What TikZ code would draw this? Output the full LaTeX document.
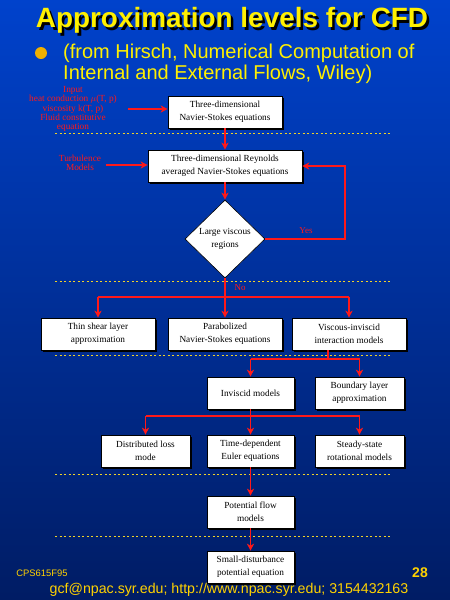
\documentclass[tikz,border=0pt]{standalone}
\usepackage{fontspec}
\setmainfont{Liberation Serif}
\setsansfont{Liberation Sans}
\usetikzlibrary{arrows.meta,shapes.geometric,shadows}
\definecolor{bgtop}{RGB}{0,66,204}
\definecolor{bgbot}{RGB}{0,28,100}
\definecolor{ttl}{RGB}{255,240,0}
\definecolor{bul}{RGB}{240,176,0}
\definecolor{foot}{RGB}{255,210,0}
\definecolor{rd}{RGB}{255,25,25}
\definecolor{sep}{RGB}{240,210,40}
\newcommand{\shadowtext}[1]{\makebox[0pt][l]{\hspace{2.5pt}\raisebox{-2.5pt}{\color{black}#1}}#1}
\begin{document}
\begin{tikzpicture}[x=1pt,y=-1pt,
  box/.style={draw=black, line width=0.6pt, fill=white, minimum height=32pt,
    align=center, font=\fontsize{9.3}{13}\selectfont, inner sep=1pt,
    drop shadow={shadow xshift=1.5pt,shadow yshift=-1.5pt,fill=black,opacity=1}},
  dia/.style={shape=diamond, draw=black, line width=0.6pt, fill=white, align=center,
    minimum width=80pt, minimum height=78pt, inner sep=0pt,
    font=\fontsize{9.3}{13}\selectfont},
  arr/.style={draw=rd, line width=1.5pt, -{Stealth[length=7pt,width=7pt,inset=2pt]}},
  ln/.style={draw=rd, line width=1.5pt},
  sepl/.style={draw=sep, line width=1pt, dash pattern=on 2pt off 2.5pt},
  redtxt/.style={text=rd, align=center, font=\fontsize{9.3}{9.4}\selectfont, inner sep=0pt},
]
\shade[top color=bgtop, bottom color=bgbot] (0,0) rectangle (450,600);
\useasboundingbox (0,0) rectangle (450,600);

% title
\node[font=\sffamily\bfseries\fontsize{27.9}{30}\selectfont, text=ttl] (title) at (232,22) {\shadowtext{Approximation levels for CFD}};
\fill[bul] (41,53) circle (6);
\node[anchor=west, font=\sffamily\fontsize{20}{22}\selectfont, text=ttl, inner sep=0pt] (sub1) at (63,53) {(from Hirsch, Numerical Computation of};
\node[anchor=west, font=\sffamily\fontsize{20}{22}\selectfont, text=ttl, inner sep=0pt] (sub2) at (63,74) {Internal and External Flows, Wiley)};

% separators
\draw[sepl] (55,133) -- (390,133);
\draw[sepl] (55,281) -- (390,281);
\draw[sepl] (55,355) -- (390,355);
\draw[sepl] (55,474) -- (390,474);
\draw[sepl] (55,536) -- (390,536);

% boxes
\node[box, minimum width=114pt] (b1) at (225,112) {Three-dimensional\\Navier-Stokes equations};
\node[box, minimum width=154pt] (b2) at (225,166) {Three-dimensional Reynolds\\averaged Navier-Stokes equations};
\node[dia] (d) at (225,239) {Large viscous\\regions};
\node[box, minimum width=114pt] (b3) at (98,334) {Thin shear layer\\approximation};
\node[box, minimum width=114pt] (b4) at (225,334) {Parabolized\\Navier-Stokes equations};
\node[box, minimum width=114pt] (b5) at (349,334) {Viscous-inviscid\\interaction models};
\node[box, minimum width=87pt] (b6) at (250.5,393) {Inviscid models};
\node[box, minimum width=89pt] (b7) at (359.5,393) {Boundary layer\\approximation};
\node[box, minimum width=89pt] (b8) at (145.5,451) {Distributed loss\\mode};
\node[box, minimum width=87pt] (b9) at (250.5,451) {Time-dependent\\Euler equations};
\node[box, minimum width=89pt] (b10) at (359.5,451) {Steady-state\\rotational models};
\node[box, minimum width=87pt] (b11) at (250.5,512) {Potential flow\\models};
\node[box, minimum width=87pt] (b12) at (250.5,567) {Small-disturbance\\potential equation};

% red labels
\node[redtxt] (inp) at (73,109) {Input\\heat conduction $\mu$(T, p)\\viscosity k(T, p)\\Fluid constitutive\\equation};
\coordinate (inpa) at (128,109);
\node[redtxt] (turb) at (80,163) {Turbulence\\Models};
\coordinate (turba) at (106,165);

% connectors
\draw[arr] (inpa) -- (inpa -| b1.west);
\draw[arr, line width=1.2pt] (turba) -- (turba -| b2.west);
\draw[arr] (b1.south) -- (b2.north);
\draw[arr] (b2.south) -- (d.north);
\coordinate (yc) at (345,200);
\draw[arr] (d.east) -| (yc) |- (b2.east);
\node[text=rd, font=\fontsize{9}{10}\selectfont, inner sep=0pt] (yes) at (306,231) {Yes};

\coordinate (s1) at (225,297);
\draw[ln] (b3.north |- s1) -- (b5.north |- s1);
\draw[arr] (d.south) -- (b4.north);
\draw[arr] (b3.north |- s1) -- (b3.north);
\draw[arr] (b5.north |- s1) -- (b5.north);
\node[text=rd, font=\fontsize{9}{10}\selectfont, inner sep=0pt] (no) at (240,288) {No};

\coordinate (s2) at (328,359);
\draw[ln] (s2 |- b5.south) -- (s2);
\draw[ln] (b6.north |- s2) -- (b7.north |- s2);
\draw[arr] (b6.north |- s2) -- (b6.north);
\draw[arr] (b7.north |- s2) -- (b7.north);

\coordinate (s3) at (250.5,416);
\draw[ln] (b8.north |- s3) -- (b10.north |- s3);
\draw[arr] (b6.south) -- (b9.north);
\draw[arr] (b8.north |- s3) -- (b8.north);
\draw[arr] (b10.north |- s3) -- (b10.north);

\draw[arr] (b9.south) -- (b11.north);
\draw[arr] (b11.south) -- (b12.north);

% footer
\node[font=\sffamily\fontsize{9.4}{10}\selectfont, text=foot, inner sep=0pt] (cps) at (42,573) {CPS615F95};
\node[font=\sffamily\bfseries\fontsize{14}{15}\selectfont, text=foot, inner sep=0pt] (pg) at (420,573) {28};
\node[font=\sffamily\fontsize{14.2}{16}\selectfont, text=foot, inner sep=0pt] (ft) at (229,590) {gcf@npac.syr.edu; http://www.npac.syr.edu; 3154432163};
\end{tikzpicture}
\end{document}
